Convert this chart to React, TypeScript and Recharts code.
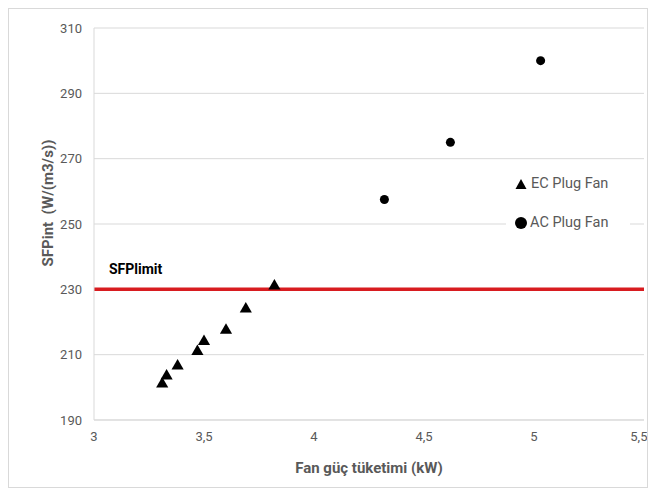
import {
  CartesianGrid,
  ReferenceLine,
  Scatter,
  ScatterChart,
  XAxis,
  YAxis,
  ZAxis,
} from "recharts";

const ecPower = [3.31, 3.33, 3.38, 3.47, 3.5, 3.6, 3.69, 3.82];
const ecSfp = [201, 203.5, 206.5, 211, 214, 217.5, 224, 231];
const acPower = [4.32, 4.62, 5.03];
const acSfp = [257.5, 275, 300];
const xTicks = [3, 3.5, 4, 4.5, 5, 5.5];
const yTicks = [190, 210, 230, 250, 270, 290, 310];
const sfpLimit = 230;

const ecData = ecPower.map((p, i) => ({ power: p, sfp: ecSfp[i] }));
const acData = acPower.map((p, i) => ({ power: p, sfp: acSfp[i] }));

const FONT = "'Roboto', 'Liberation Sans', sans-serif";
const GREY = "#595959";

// legend sits inside the plot, drawn over the grid like the excel one
const LegendBox = () => (
  <div
    style={{
      position: "absolute",
      left: 497,
      top: 151,
      width: 124,
      background: "#fff",
      fontFamily: FONT,
      fontSize: 14.5,
      color: GREY,
      padding: "4px 0",
    }}
  >
    <div style={{ display: "flex", alignItems: "center", height: 39 }}>
      <svg width={14} height={14} style={{ marginLeft: 8, marginRight: 3 }}>
        <polygon points="7,2 12.5,12 1.5,12" fill="#000" />
      </svg>
      EC Plug Fan
    </div>
    <div style={{ display: "flex", alignItems: "center", height: 39 }}>
      <svg width={14} height={14} style={{ marginLeft: 8, marginRight: 2 }}>
        <circle cx={7} cy={7} r={6} fill="#000" />
      </svg>
      AC Plug Fan
    </div>
  </div>
);

const YLabel = () => (
  <text
    x={39}
    y={194}
    transform="rotate(-90, 39, 194)"
    textAnchor="middle"
    dominantBaseline="central"
    fill={GREY}
    fontWeight="bold"
    fontSize={15}
    fontFamily={FONT}
    style={{ whiteSpace: "pre" }}
  >
    {"SFPint  (W/(m3/s))"}
  </text>
);

export default function App() {
  return (
    <div
      style={{
        position: "relative",
        width: 640,
        height: 480,
        border: "1px solid #d9d9d9",
        boxSizing: "border-box",
        background: "#fff",
      }}
    >
      <ScatterChart
        width={638}
        height={478}
        margin={{ top: 19, right: 3, left: 40, bottom: 0 }}
        style={{ fontFamily: FONT }}
      >
        <CartesianGrid vertical={false} stroke="#d9d9d9" />
        <XAxis
          type="number"
          dataKey="power"
          domain={[3, 5.5]}
          ticks={xTicks}
          tickFormatter={(v: number) => String(v).replace(".", ",")}
          tickLine={false}
          axisLine={{ stroke: "#d9d9d9" }}
          tick={{ fill: GREY, fontSize: 13 }}
          tickMargin={6}
          height={67}
          label={{
            value: "Fan güç tüketimi (kW)",
            position: "insideBottom",
            offset: 14,
            fill: GREY,
            fontSize: 15,
            fontWeight: "bold",
          }}
        />
        <YAxis
          type="number"
          dataKey="sfp"
          domain={[190, 310]}
          ticks={yTicks}
          tickLine={false}
          axisLine={{ stroke: "#d9d9d9" }}
          tick={{ fill: GREY, fontSize: 13 }}
          tickMargin={6}
          width={45}
          label={{ content: () => <YLabel /> }}
        />
        <ZAxis zAxisId="ec" range={[60, 60]} />
        <ZAxis zAxisId="ac" range={[140, 140]} />
        <Scatter
          name="EC Plug Fan"
          data={ecData}
          zAxisId="ec"
          shape="triangle"
          fill="#000"
          isAnimationActive={false}
        />
        <Scatter
          name="AC Plug Fan"
          data={acData}
          zAxisId="ac"
          shape="circle"
          fill="#000"
          isAnimationActive={false}
        />
        <ReferenceLine
          y={sfpLimit}
          stroke="#d81c20"
          strokeWidth={3.5}
          label={{
            value: "SFPlimit",
            position: "insideBottomLeft",
            offset: 15,
            fill: "#000",
            fontSize: 14,
            fontWeight: "bold",
          }}
        />
      </ScatterChart>
      <LegendBox />
    </div>
  );
}
